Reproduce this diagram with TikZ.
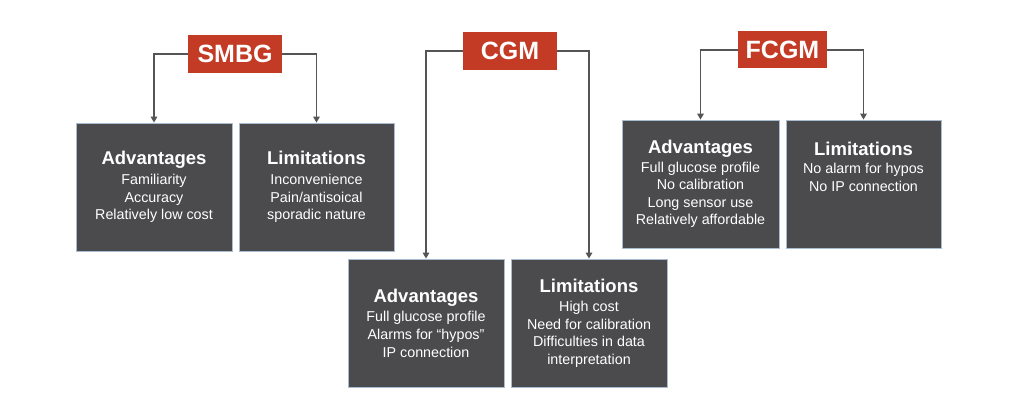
\documentclass[tikz,border=0pt]{standalone}
\usepackage{fontspec}
\setmainfont{Liberation Sans}
\usetikzlibrary{arrows.meta}
\definecolor{devred}{HTML}{C33B24}
\definecolor{boxgray}{HTML}{4B4B4E}
\definecolor{boxedge}{HTML}{A9BCD0}
\definecolor{linegray}{HTML}{555555}

\tikzset{%
  device/.style={
    rectangle,
    fill=devred,
    text=white,
    inner sep=0pt,
    minimum height=38pt,
    font=\fontsize{25}{28}\selectfont\bfseries
  },
  infobox/.style={
    rectangle,
    fill=boxgray,
    draw=boxedge,
    line width=0.8pt,
    text=white,
    inner sep=0pt,
    minimum width=156pt,
    minimum height=128pt,
    align=center,
    font=\fontsize{14.3}{17.6}\selectfont
  },
  feed/.style={
    draw=linegray,
    line width=1.6pt,
    -{Triangle[length=6pt,width=6.5pt]}
  },
}
\newcommand{\boxtitle}[1]{{\fontsize{18.5}{21}\selectfont\bfseries #1}}

\begin{document}
\begin{tikzpicture}[x=1pt,y=-1pt]
\useasboundingbox[fill=white] (0,0) rectangle (1023,401);
% SMBG
\node[device,minimum width=94pt] (smbg) at (235,54) {SMBG};
\node[infobox] (smbgadv) at (154,187) {\boxtitle{Advantages}\\[2pt]Familiarity\\Accuracy\\Relatively low cost};
\node[infobox,minimum width=155pt] (smbglim) at (316.5,187) {\boxtitle{Limitations}\\[2pt]Inconvenience\\Pain/antisoical\\sporadic nature};
\draw[feed] (smbg.west) -| (smbgadv.north);
\draw[feed] (smbg.east) -| (smbglim.north);
% CGM
\node[device,minimum width=94pt] (cgm) at (510,51) {CGM};
\node[infobox] (cgmadv) at (426,323) {\boxtitle{Advantages}\\[2pt]Full glucose profile\\Alarms for ``hypos''\\IP connection};
\node[infobox] (cgmlim) at (589,323) {\boxtitle{Limitations}\\[2pt]High cost\\Need for calibration\\Difficulties in data\\interpretation};
\draw[feed] (cgm.west) -| (cgmadv.north);
\draw[feed] (cgm.east) -| (cgmlim.north);
% FCGM
\node[device,minimum width=89pt,minimum height=37pt] (fcgm) at (782.5,50) {FCGM};
\node[infobox,minimum width=157pt] (fcgmadv) at (700.5,184) {\boxtitle{Advantages}\\[1pt]Full glucose profile\\No calibration\\Long sensor use\\Relatively affordable};
\node[infobox,minimum width=155pt] (fcgmlim) at (863.5,184) {\boxtitle{Limitations}\\[1pt]No alarm for hypos\\No IP connection\\\phantom{X}\\\phantom{X}};
\draw[feed] (fcgm.west) -| (fcgmadv.north);
\draw[feed] (fcgm.east) -| (fcgmlim.north);
\end{tikzpicture}
\end{document}
